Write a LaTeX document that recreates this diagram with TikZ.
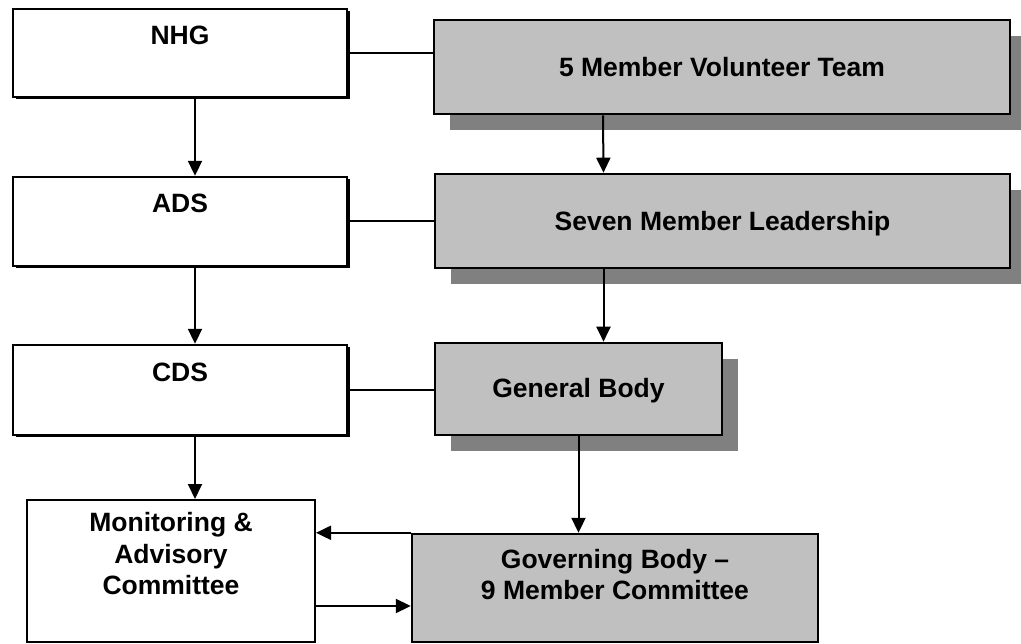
\documentclass[tikz,border=0pt]{standalone}
\usepackage{fontspec}
\setmainfont{Liberation Sans}
\usetikzlibrary{arrows.meta,shadows}
\definecolor{boxgray}{RGB}{192,192,192}
\definecolor{shadegray}{RGB}{128,128,128}
\begin{document}
\begin{tikzpicture}[x=1pt,y=-1pt,
  lbl/.style={font=\fontsize{26.5}{31.5}\selectfont\bfseries, align=center, inner sep=0pt},
  wbox/.style={draw=black, line width=2.4pt, fill=white, inner sep=0pt,
    drop shadow={shadow xshift=2.5pt, shadow yshift=-2.5pt, fill=black, opacity=1}},
  gbox/.style={draw=black, line width=2.6pt, fill=boxgray, inner sep=0pt,
    drop shadow={shadow xshift=16pt, shadow yshift=-16pt, fill=shadegray, opacity=1}},
  link/.style={line width=2pt},
  arr/.style={link, -{Triangle[width=14pt,length=15pt]}}
]
\useasboundingbox (0,0) rectangle (1021,644);

% left column: white boxes
\node[wbox, minimum width=334pt, minimum height=88pt] (nhg) at (180,53) {};
\node[wbox, minimum width=334pt, minimum height=89pt] (ads) at (180,221.5) {};
\node[wbox, minimum width=334pt, minimum height=90pt] (cds) at (180,390) {};
\node[draw=black, line width=2pt, fill=white, inner sep=0pt,
      minimum width=288pt, minimum height=142pt] (mon) at (171,571) {};

% right column: grey boxes with offset shadows
\node[gbox, minimum width=576pt, minimum height=94pt] (fivem) at (722,67) {};
\node[gbox, minimum width=575pt, minimum height=94pt] (seven) at (722.5,221) {};
\node[gbox, minimum width=287pt, minimum height=92pt] (gen) at (578.5,389) {};
\node[draw=black, line width=2.4pt, fill=boxgray, inner sep=0pt,
      minimum width=406pt, minimum height=108pt] (gov) at (615,588) {};

% labels
\node[lbl, anchor=base] (nhg-t) at (180,45) {NHG};
\node[lbl, anchor=base] (ads-t) at (180,212.5) {ADS};
\node[lbl, anchor=base] (cds-t) at (180,382) {CDS};
\node[lbl] (mon-t) at (171,554) {Monitoring \&\\Advisory\\Committee};
\node[lbl, anchor=base] (fivem-t) at (722,76.5) {5 Member Volunteer Team};
\node[lbl, anchor=base] (seven-t) at (722.5,230.5) {Seven Member Leadership};
\node[lbl, anchor=base] (gen-t) at (578.5,398) {General Body};
\node[lbl] (gov-t) at (615,574.5) {Governing Body –\\9 Member Committee};

% horizontal links between the columns
\draw[link] (nhg.east) -- (nhg.east -| fivem.west);
\draw[link] (ads.east) -- (ads.east -| seven.west);
\draw[link] (cds.east) -- (cds.east -| gen.west);

% downward flow, left column
\draw[arr] ([xshift=15pt]nhg.south) -- ([xshift=15pt]ads.north);
\draw[arr] ([xshift=15pt]ads.south) -- ([xshift=15pt]cds.north);
\draw[arr] ([xshift=15pt]cds.south) -- ([xshift=15pt]cds.south |- mon.north);

% downward flow, right column
\draw[arr] ([xshift=-119pt]fivem.south) -- ([xshift=-119pt]seven.north);
\draw[arr] ([xshift=-119pt]seven.south) -- ([xshift=-119pt]seven.south |- gen.north);
\draw[arr] (gen.south) -- (gen.south |- gov.north);

% exchange between governing body and monitoring committee
\draw[arr] (gov.north west) -- (gov.north west -| mon.east);
\draw[arr] ([yshift=-35pt]mon.east) -- ([yshift=-35pt]mon.east -| gov.west);
\end{tikzpicture}
\end{document}
